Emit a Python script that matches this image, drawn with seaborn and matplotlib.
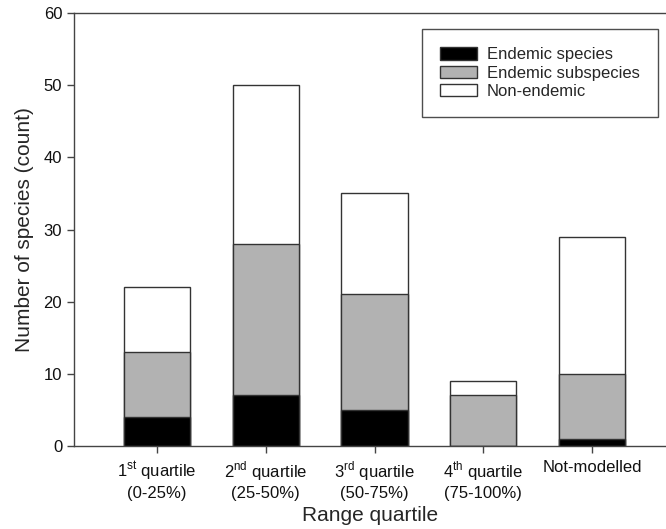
import matplotlib
matplotlib.use("Agg")
import matplotlib.pyplot as plt
import seaborn as sns
import pandas as pd
from matplotlib.patches import Patch

categories = [
    "1$^{\\mathregular{st}}$ quartile\n(0-25%)",
    "2$^{\\mathregular{nd}}$ quartile\n(25-50%)",
    "3$^{\\mathregular{rd}}$ quartile\n(50-75%)",
    "4$^{\\mathregular{th}}$ quartile\n(75-100%)",
    "Not-modelled",
]
endemic_species = [4, 7, 5, 0, 1]
endemic_subspecies = [9, 21, 16, 7, 9]
non_endemic = [9, 22, 14, 2, 19]

series_names = ["Endemic species", "Endemic subspecies", "Non-endemic"]
series_colors = ["#000000", "#b2b2b2", "#ffffff"]

sns.set_style("ticks")
plt.rcParams["font.family"] = ["Liberation Sans", "DejaVu Sans"]
plt.rcParams["mathtext.fontset"] = "custom"
plt.rcParams["mathtext.rm"] = "Liberation Sans"

df = pd.DataFrame({
    "cat": categories,
    "sp": endemic_species,
    "sub": endemic_subspecies,
    "non": non_endemic,
})
df["c1"] = df["sp"]
df["c2"] = df["sp"] + df["sub"]
df["c3"] = df["c2"] + df["non"]

fig = plt.figure(figsize=(6.66, 5.29), dpi=100)
ax = fig.add_axes([74 / 666, 83 / 529, 1 - 74 / 666, (446 - 13) / 529])

edge = "#333333"
for col, color in zip(["c3", "c2", "c1"], series_colors[::-1]):
    sns.barplot(data=df, x="cat", y=col, color=color, edgecolor=edge,
                linewidth=1.0, width=0.61, saturation=1, ax=ax, order=categories)

ax.set_xlim(-0.763, 4.68)
ax.set_ylim(0, 60)
ax.set_yticks(range(0, 61, 10))
ax.set_xlabel("Range quartile", fontsize=15, labelpad=4)
ax.set_ylabel("Number of species (count)", fontsize=15, labelpad=7)
ax.tick_params(axis="both", labelsize=12, direction="out", length=5,
               width=1, color="#444444", labelcolor="#111111")
ax.tick_params(axis="x", pad=5)
for s in ["left", "top", "bottom"]:
    ax.spines[s].set_visible(True)
    ax.spines[s].set_color("#444444")
    ax.spines[s].set_linewidth(1)
ax.spines["right"].set_visible(False)

handles = [Patch(facecolor=c, edgecolor=edge, linewidth=1.0) for c in series_colors]
leg = ax.legend(handles, series_names, loc="upper right",
                bbox_to_anchor=(658 / 666, (529 - 29) / 529), bbox_transform=fig.transFigure,
                fontsize=12, frameon=True, fancybox=False, edgecolor="#222222",
                handlelength=2.2, handleheight=0.75, borderpad=1.1,
                labelspacing=0.2, handletextpad=0.6, borderaxespad=0)
leg.get_frame().set_linewidth(1.0)

fig.savefig("out.png", dpi=100)
